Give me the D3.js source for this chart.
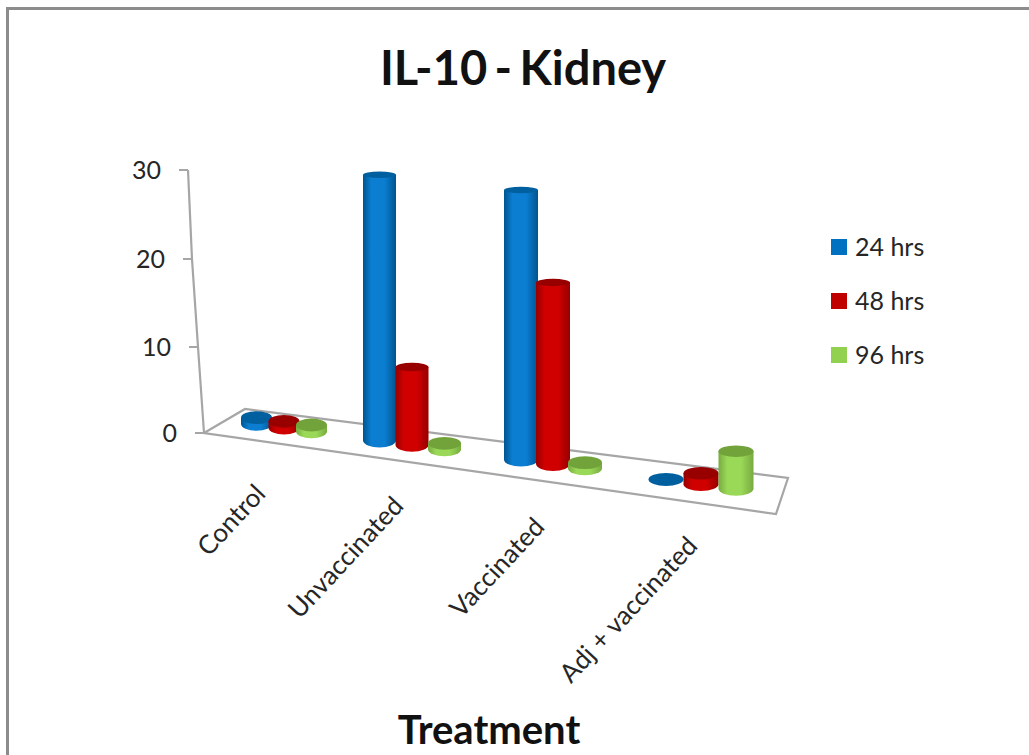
<!DOCTYPE html>
<html>
<head>
<meta charset="utf-8">
<script src="https://cdn.jsdelivr.net/npm/d3@7"></script>
<style>
  html, body { margin: 0; padding: 0; background: #fff; overflow: hidden; }
  text { font-family: Lato, "Open Sans", sans-serif; fill: #262626; }
</style>
</head>
<body>
<div id="general"></div>
<script>
const w = 1029, h = 755;

const categories = ["Control", "Unvaccinated", "Vaccinated", "Adj + vaccinated"];
const seriesNames = ["24 hrs", "48 hrs", "96 hrs"];
const hrs24 = [0.7, 28.8, 28.4, 0];
const hrs48 = [0.7, 8.4, 19, 1.1];
const hrs96 = [0.7, 0.65, 0.6, 3.8];
const yTicks = [0, 10, 20, 30];

const seriesValues = [hrs24, hrs48, hrs96];
const colors = [
  { edge: "#00558f", mid: "#0b7ed2", top: "#005f9f", key: "#0070c0" },
  { edge: "#960000", mid: "#d00000", top: "#980000", key: "#c00000" },
  { edge: "#78ab40", mid: "#9ad858", top: "#72a33b", key: "#92d050" }
];

const svg = d3.select("#general").append("svg").attr("width", w).attr("height", h).style("display", "block");

// chart frame, runs off the bottom and right of the picture
svg.append("rect")
  .attr("x", 7.5).attr("y", 8.5).attr("width", 1040).attr("height", 800)
  .attr("fill", "#fff").attr("stroke", "#8c8c8c").attr("stroke-width", 3);

// the fake perspective: categories spread out and grow towards the right
const idx = d3.range(categories.length);
const xCat = d3.scaleLinear().domain(idx).range([284, 412, 553, 701]);
const stepX = d3.scaleLinear().domain(idx).range([27.5, 32.5, 32, 35]);
const radius = d3.scaleLinear().domain(idx).range([15.5, 16.5, 17, 17.5]);
const floorY = d3.scaleLinear().domain([257, 737]).range([424, 489]);
const perUnit = d3.scaleLinear().domain([204, 788]).range([8.9, 10]);
// tops flatten out the higher they get
const topRy = d3.scaleLinear().domain([0, 40, 80, 270]).range([6.5, 5.8, 4.2, 3.2]);

const axisY = d3.scaleLinear().domain(yTicks).range([433, 347, 259, 170]);
const axisX = d3.scaleLinear().domain(yTicks).range([204, 198, 192, 188]);

const defs = svg.append("defs");
colors.forEach((c, i) => {
  const grad = defs.append("linearGradient").attr("id", `cyl${i}`);
  grad.append("stop").attr("offset", "0%").attr("stop-color", c.edge);
  grad.append("stop").attr("offset", "25%").attr("stop-color", c.mid);
  grad.append("stop").attr("offset", "65%").attr("stop-color", c.mid);
  grad.append("stop").attr("offset", "100%").attr("stop-color", c.edge);
});

// floor
const floor = [[204, 433], [245, 409], [788, 478], [776, 514]];
svg.append("path")
  .attr("d", d3.line()(floor) + "Z")
  .attr("fill", "none").attr("stroke", "#a6a6a6").attr("stroke-width", 2.2);

// value axis
svg.append("path")
  .attr("d", d3.line()(yTicks.map(t => [axisX(t), axisY(t)])))
  .attr("fill", "none").attr("stroke", "#a6a6a6").attr("stroke-width", 2.2);

yTicks.forEach(t => {
  svg.append("line")
    .attr("x1", axisX(t) - 9).attr("x2", axisX(t))
    .attr("y1", axisY(t)).attr("y2", axisY(t))
    .attr("stroke", "#a6a6a6").attr("stroke-width", 2);
  svg.append("text")
    .text(t)
    .attr("x", axisX(t) - 27)
    .attr("y", axisY(t) + 9)
    .attr("text-anchor", "end")
    .attr("font-size", 25);
});

// cylinders
idx.forEach(c => {
  seriesValues.forEach((vals, s) => {
    const cx = xCat(c) + (s - 1) * stepX(c);
    const r = radius(c);
    const ry = 6.8;
    const base = floorY(cx);
    const barH = vals[c] * perUnit(cx);
    const top = base - barH;
    const col = colors[s];
    if (vals[c] > 0) {
      svg.append("path")
        .attr("d", `M${cx - r},${top}L${cx - r},${base}A${r},${ry} 0 0 0 ${cx + r},${base}L${cx + r},${top}Z`)
        .attr("fill", `url(#cyl${s})`);
    }
    svg.append("ellipse")
      .attr("cx", cx).attr("cy", top).attr("rx", r).attr("ry", topRy(barH))
      .attr("fill", col.top);
  });
});

// category labels
const labelEnd = [[267, 495], [405, 507], [546, 528], [699, 547]];
categories.forEach((name, i) => {
  svg.append("text")
    .text(name)
    .attr("transform", `translate(${labelEnd[i][0]},${labelEnd[i][1]}) rotate(-47)`)
    .attr("text-anchor", "end")
    .attr("font-size", 26);
});

// legend
const legendY = d3.scalePoint().domain(seriesNames).range([247, 355]);
seriesNames.forEach((name, i) => {
  svg.append("rect")
    .attr("x", 831).attr("y", legendY(name) - 8).attr("width", 16).attr("height", 16)
    .attr("fill", colors[i].key);
  svg.append("text")
    .text(name)
    .attr("x", 855).attr("y", legendY(name) + 9)
    .attr("font-size", 25);
});

// titles
svg.append("text")
  .text("IL-10 - Kidney")
  .attr("x", 523).attr("y", 85)
  .attr("text-anchor", "middle")
  .attr("font-size", 47).attr("font-weight", "bold")
  .attr("word-spacing", -4)
  .style("fill", "#111");

svg.append("text")
  .text("Treatment")
  .attr("x", 489).attr("y", 744)
  .attr("text-anchor", "middle")
  .attr("font-size", 40).attr("font-weight", "bold")
  .style("fill", "#111");
</script>
</body>
</html>
